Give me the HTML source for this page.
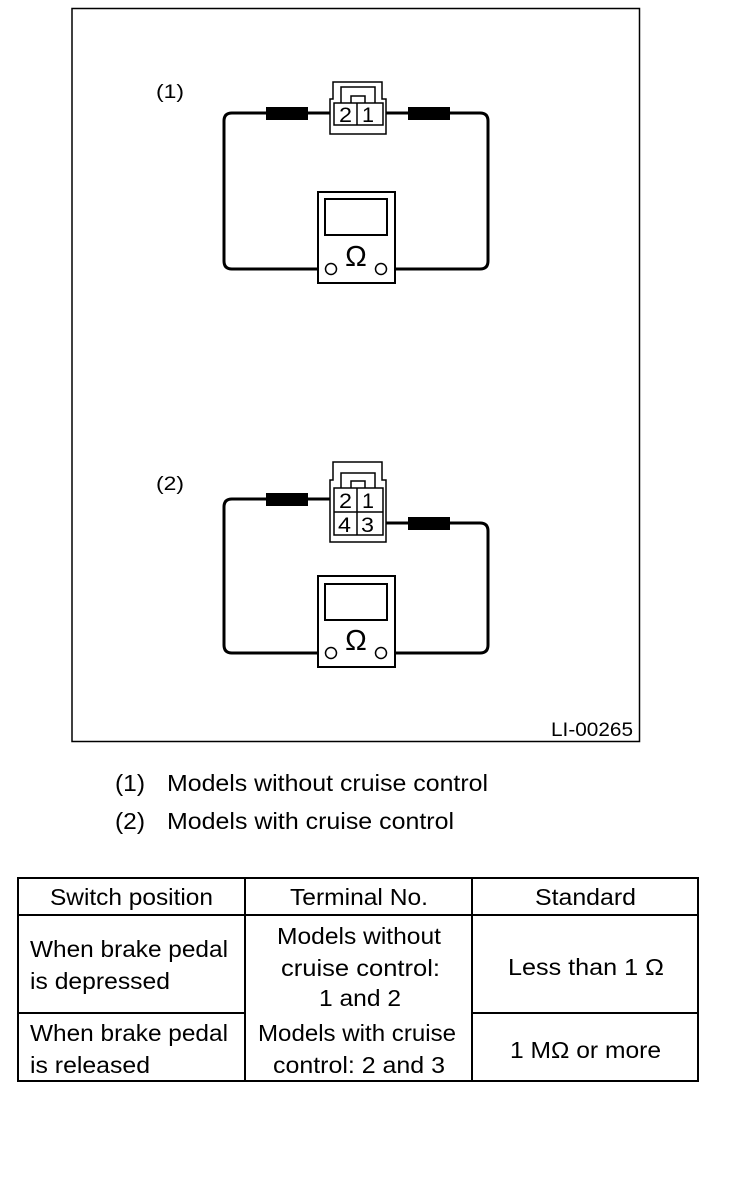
<!DOCTYPE html>
<html><head><style>
body{margin:0;background:#fff;width:736px;height:1186px;overflow:hidden}
svg{position:absolute;left:0;top:0}
text{font-family:"Liberation Sans",sans-serif;fill:#000}
</style></head><body>
<svg width="736" height="1186" viewBox="0 0 736 1186">
<rect x="72" y="8.5" width="567.5" height="733" fill="none" stroke="#000" stroke-width="1.5"/>
<text x="156" y="98" font-size="19" textLength="28" lengthAdjust="spacingAndGlyphs">(1)</text>
<text x="156" y="490" font-size="19" textLength="28" lengthAdjust="spacingAndGlyphs">(2)</text>
<text x="551" y="736" font-size="19" textLength="82" lengthAdjust="spacingAndGlyphs">LI-00265</text>

<!-- Diagram 1 -->
<g fill="none" stroke="#000">
<path d="M334 113 H232 Q224 113 224 121 V261 Q224 269 232 269 H324" stroke-width="3"/>
<path d="M383 113 H480 Q488 113 488 121 V261 Q488 269 480 269 H387" stroke-width="3"/>
<rect x="266" y="107" width="42" height="13" fill="#000" stroke="none"/>
<rect x="408" y="107" width="42" height="13" fill="#000" stroke="none"/>
<path d="M330 134 V99 H333 V82 H382 V99 H386 V134 Z" fill="#fff" stroke-width="1.5"/>
<path d="M341 103 V87 H375 V103 M351 103 V96 H365 V103" stroke-width="1.5"/>
<rect x="334" y="103" width="49" height="22" stroke-width="1.5" fill="#fff"/>
<line x1="357" y1="103" x2="357" y2="125" stroke-width="1.5"/>
<rect x="318" y="192" width="77" height="91" stroke-width="2" fill="#fff"/>
<rect x="325" y="199" width="62" height="36" stroke-width="2"/>
<circle cx="331" cy="269" r="5.5" stroke-width="1.5" fill="#fff"/>
<circle cx="381" cy="269" r="5.5" stroke-width="1.5" fill="#fff"/>
</g>
<text x="339" y="122" font-size="21" textLength="13" lengthAdjust="spacingAndGlyphs">2</text>
<text x="362" y="122" font-size="21" textLength="12" lengthAdjust="spacingAndGlyphs">1</text>
<text x="356" y="266" font-size="29" text-anchor="middle">Ω</text>

<!-- Diagram 2 -->
<g fill="none" stroke="#000">
<path d="M334 499 H232 Q224 499 224 507 V645 Q224 653 232 653 H324" stroke-width="3"/>
<path d="M383 523 H480 Q488 523 488 531 V645 Q488 653 480 653 H387" stroke-width="3"/>
<rect x="266" y="493" width="42" height="13" fill="#000" stroke="none"/>
<rect x="408" y="517" width="42" height="13" fill="#000" stroke="none"/>
<path d="M330 542 V480 H333 V462 H382 V480 H386 V542 Z" fill="#fff" stroke-width="1.5"/>
<path d="M341 488 V473 H375 V488 M351 488 V481 H365 V488" stroke-width="1.5"/>
<rect x="334" y="488" width="49" height="47" stroke-width="1.5" fill="#fff"/>
<line x1="357" y1="488" x2="357" y2="535" stroke-width="1.5"/>
<line x1="334" y1="512" x2="383" y2="512" stroke-width="1.5"/>
<rect x="318" y="576" width="77" height="91" stroke-width="2" fill="#fff"/>
<rect x="325" y="584" width="62" height="36" stroke-width="2"/>
<circle cx="331" cy="653" r="5.5" stroke-width="1.5" fill="#fff"/>
<circle cx="381" cy="653" r="5.5" stroke-width="1.5" fill="#fff"/>
</g>
<text x="339" y="508" font-size="21" textLength="13" lengthAdjust="spacingAndGlyphs">2</text>
<text x="362" y="508" font-size="21" textLength="12" lengthAdjust="spacingAndGlyphs">1</text>
<text x="338" y="532" font-size="21" textLength="13" lengthAdjust="spacingAndGlyphs">4</text>
<text x="361" y="532" font-size="21" textLength="13" lengthAdjust="spacingAndGlyphs">3</text>
<text x="356" y="650" font-size="29" text-anchor="middle">Ω</text>

<g font-size="23">
<text x="115" y="791" textLength="30" lengthAdjust="spacingAndGlyphs">(1)</text>
<text x="167" y="791" textLength="321" lengthAdjust="spacingAndGlyphs">Models without cruise control</text>
<text x="115" y="829" textLength="30" lengthAdjust="spacingAndGlyphs">(2)</text>
<text x="167" y="829" textLength="287" lengthAdjust="spacingAndGlyphs">Models with cruise control</text>
</g>

<!-- Table -->
<g fill="none" stroke="#000" stroke-width="2">
<rect x="18" y="878" width="680" height="203"/>
<line x1="18" y1="915" x2="698" y2="915"/>
<line x1="18" y1="1013" x2="245" y2="1013"/>
<line x1="472" y1="1013" x2="698" y2="1013"/>
<line x1="245" y1="878" x2="245" y2="1081"/>
<line x1="472" y1="878" x2="472" y2="1081"/>
</g>
<g font-size="23">
<text x="50" y="905" textLength="163" lengthAdjust="spacingAndGlyphs">Switch position</text>
<text x="290" y="905" textLength="138" lengthAdjust="spacingAndGlyphs">Terminal No.</text>
<text x="535" y="905" textLength="101" lengthAdjust="spacingAndGlyphs">Standard</text>
<text x="30" y="957" textLength="198" lengthAdjust="spacingAndGlyphs">When brake pedal</text>
<text x="30" y="989" textLength="140" lengthAdjust="spacingAndGlyphs">is depressed</text>
<text x="277" y="944" textLength="164" lengthAdjust="spacingAndGlyphs">Models without</text>
<text x="281" y="976" textLength="159" lengthAdjust="spacingAndGlyphs">cruise control:</text>
<text x="319" y="1006" textLength="82" lengthAdjust="spacingAndGlyphs">1 and 2</text>
<text x="508" y="975" textLength="156" lengthAdjust="spacingAndGlyphs">Less than 1 Ω</text>
<text x="30" y="1041" textLength="198" lengthAdjust="spacingAndGlyphs">When brake pedal</text>
<text x="30" y="1073" textLength="120" lengthAdjust="spacingAndGlyphs">is released</text>
<text x="258" y="1041" textLength="198" lengthAdjust="spacingAndGlyphs">Models with cruise</text>
<text x="273" y="1073" textLength="172" lengthAdjust="spacingAndGlyphs">control: 2 and 3</text>
<text x="510" y="1058" textLength="151" lengthAdjust="spacingAndGlyphs">1 MΩ or more</text>
</g>
</svg>
</body></html>
